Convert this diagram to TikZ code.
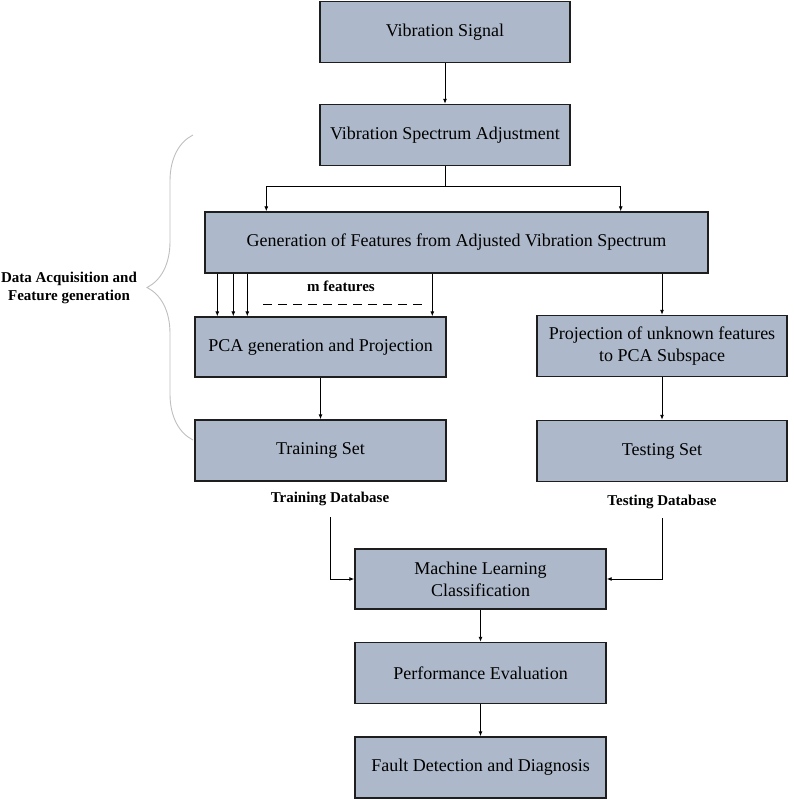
\documentclass[tikz,border=0pt]{standalone}
\usepackage{fontspec}
\setmainfont{Liberation Serif}
\usetikzlibrary{arrows.meta,decorations.pathreplacing}
\definecolor{boxfill}{HTML}{ADB9CA}
\definecolor{boxline}{HTML}{1E1E1E}

\begin{document}
\begin{tikzpicture}[x=1pt,y=-1pt,
  box/.style={draw=boxline,line width=1.4pt,fill=boxfill,inner sep=0pt,align=center,
    minimum width=250,minimum height=61,font=\fontsize{18}{22}\selectfont},
  lbl/.style={font=\bfseries\fontsize{15}{18}\selectfont,align=center},
  arr/.style={-{Latex[length=5pt,width=4pt]},line width=0.9pt}]
\useasboundingbox (0,0) rectangle (793,799);

\node[box] (sig) at (445,32) {Vibration Signal};
\node[box] (adj) at (445,135) {Vibration Spectrum Adjustment};
\node[box,minimum width=503] (gen) at (456.5,242.5) {Generation of Features from Adjusted Vibration Spectrum};
\node[box,minimum width=251,minimum height=60] (pca) at (320.5,347) {PCA generation and Projection};
\node[box] (proj) at (662,346) {Projection of unknown features\\to PCA Subspace};
\node[box,minimum width=251] (train) at (320.5,450.5) {Training Set};
\node[box] (test) at (662,451) {Testing Set};
\node[box,minimum width=251,minimum height=60] (ml) at (480.5,579) {Machine Learning\\Classification};
\node[box,minimum width=251] (perf) at (480.5,673) {Performance Evaluation};
\node[box,minimum width=251] (fault) at (480.5,767.5) {Fault Detection and Diagnosis};

\node[lbl] (trdb) at (330,499) {Training Database};
\node[lbl] (tedb) at (662,502) {Testing Database};
\node[lbl] (mfeat) at (341,286) {m features};
\node[lbl] (grp) at (69,288) {Data Acquisition and\\Feature generation};

\coordinate (split) at (445,186);

% main flow
\draw[arr] (sig) -- (adj);
\draw[arr] (adj.south) -- (split) -| ([xshift=62pt]gen.north west);
\draw[arr] (split) -| ([xshift=-88pt]gen.north east);

% feature lines
\foreach \dx in {13,29,43,228}
  \draw[arr] ([xshift=\dx pt]gen.south west) -- ([xshift=\dx pt]gen.south west |- pca.north);
\draw[line width=1pt,dash pattern=on 9pt off 6pt] (263,304) -- (423,304);

\draw[arr] (gen.south -| proj.north) -- (proj.north);
\draw[arr] (pca) -- (train);
\draw[arr] (proj) -- (test);

\draw[arr] ([yshift=-8pt]trdb.south) |- (ml.west);
\draw[arr] ([yshift=-6pt]tedb.south) |- (ml.east);
\draw[arr] (ml) -- (perf);
\draw[arr] (perf) -- (fault);

% brace
\draw[black!25,line width=0.9pt,decorate,decoration={brace,amplitude=46pt}] (193,440) -- (193,135);
\end{tikzpicture}
\end{document}
